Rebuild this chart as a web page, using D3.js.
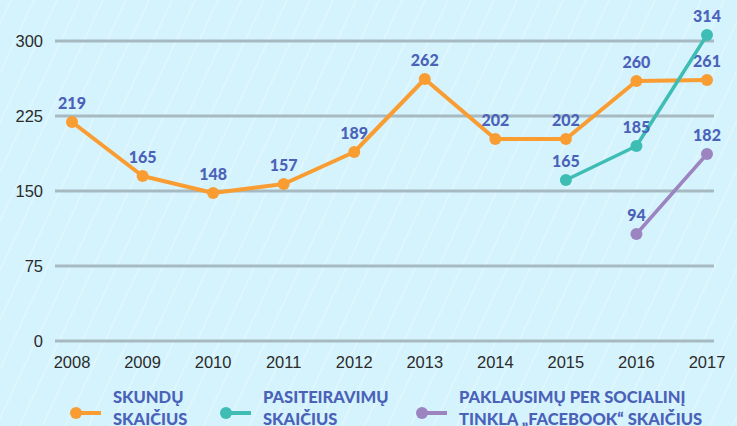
<!DOCTYPE html>
<html lang="lt">
<head>
  <meta charset="UTF-8" />
  <title>Skundų ir pasiteiravimų skaičius</title>
  <script src="https://d3js.org/d3.v7.min.js"></script>
  <style>
    body { margin: 0; padding: 0; background: #d5f3fd; overflow: hidden; }
    svg { display: block; }
    .tick-label { font-family: "Liberation Sans", Arial, sans-serif; font-size: 16.5px; fill: #2b2b2b; }
    .val-label { font-family: "Lato", "Open Sans", sans-serif; font-weight: 900; font-size: 16px; fill: #4a62b8; }
    .legend-text { font-family: "Lato", "Open Sans", sans-serif; font-weight: 900; font-size: 16.5px; fill: #4a62b8; }
  </style>
</head>
<body>
<svg id="chart"></svg>
<script>
  // data
  const years = [2008, 2009, 2010, 2011, 2012, 2013, 2014, 2015, 2016, 2017];
  const yTicks = [0, 75, 150, 225, 300];

  const complaints = [219, 165, 148, 157, 189, 262, 202, 202, 260, 261];
  // as drawn in the picture (points sit a bit off their labels)
  const inquiriesDrawn = [161, 195, 306];
  const inquiriesLabels = [165, 185, 314];
  const inquiriesYears = [2015, 2016, 2017];
  const facebookDrawn = [107, 187];
  const facebookLabels = [94, 182];
  const facebookYears = [2016, 2017];

  const legendItems = [
    { lines: ["SKUNDŲ", "SKAIČIUS"], color: "#f99d33" },
    { lines: ["PASITEIRAVIMŲ", "SKAIČIUS"], color: "#3dbdb4" },
    { lines: ["PAKLAUSIMŲ PER SOCIALINĮ", "TINKLĄ „FACEBOOK“ SKAIČIUS"], color: "#9c84c1" }
  ];

  const W = 737, H = 426;
  const svg = d3.select('#chart').attr('width', W).attr('height', H);

  // diagonal hatching on the background
  const defs = svg.append('defs');
  const pat = defs.append('pattern')
    .attr('id', 'hatch').attr('patternUnits', 'userSpaceOnUse')
    .attr('width', 23).attr('height', 50)
    .attr('patternTransform', 'skewX(-25)');
  pat.append('line').attr('x1', 11).attr('y1', 0).attr('x2', 11).attr('y2', 50)
    .attr('stroke', '#ffffff').attr('stroke-opacity', 0.4).attr('stroke-width', 1.2);
  svg.append('rect').attr('width', W).attr('height', H).attr('fill', '#d5f3fd');
  svg.append('rect').attr('width', W).attr('height', H).attr('fill', 'url(#hatch)');

  const x = d3.scalePoint().domain(years).range([72, 707]);
  const y = d3.scaleLinear().domain([0, 300]).range([341, 41]);

  // grid
  svg.append('g').selectAll('line').data(yTicks).enter().append('line')
    .attr('x1', 55).attr('x2', 714)
    .attr('y1', d => y(d)).attr('y2', d => y(d))
    .attr('stroke', '#a7b9c1').attr('stroke-width', 3);

  svg.append('g').selectAll('text').data(yTicks).enter().append('text')
    .attr('class', 'tick-label')
    .attr('x', 43).attr('y', d => y(d) + 6)
    .attr('text-anchor', 'end')
    .text(d => d);

  svg.append('g').selectAll('text').data(years).enter().append('text')
    .attr('class', 'tick-label')
    .attr('x', d => x(d)).attr('y', 368)
    .attr('text-anchor', 'middle')
    .text(d => d);

  const line = d3.line().x(d => x(d.year)).y(d => y(d.v));

  function drawSeries(ys, drawn, labels, color, width, r) {
    const pts = ys.map((yr, i) => ({ year: yr, v: drawn[i], lab: labels[i] }));
    svg.append('path').datum(pts)
      .attr('d', line).attr('fill', 'none')
      .attr('stroke', color).attr('stroke-width', width)
      .attr('stroke-linejoin', 'round');
    svg.append('g').selectAll('circle').data(pts).enter().append('circle')
      .attr('cx', d => x(d.year)).attr('cy', d => y(d.v))
      .attr('r', r).attr('fill', color);
    svg.append('g').selectAll('text').data(pts).enter().append('text')
      .attr('class', 'val-label')
      .attr('x', d => x(d.year)).attr('y', d => y(d.v) - 13)
      .attr('text-anchor', 'middle')
      .text(d => d.lab);
  }

  drawSeries(years, complaints, complaints, '#f99d33', 4, 6);
  drawSeries(inquiriesYears, inquiriesDrawn, inquiriesLabels, '#3dbdb4', 3.5, 6);
  drawSeries(facebookYears, facebookDrawn, facebookLabels, '#9c84c1', 3.5, 6);

  // legend (second text line runs off the bottom edge, as in the original)
  const legendX = [76, 226, 422];
  const lg = svg.append('g').selectAll('g').data(legendItems).enter().append('g')
    .attr('transform', (d, i) => `translate(${legendX[i]},0)`);
  lg.append('line').attr('x1', 0).attr('x2', 25).attr('y1', 413).attr('y2', 413)
    .attr('stroke', d => d.color).attr('stroke-width', 4);
  lg.append('circle').attr('cx', 0).attr('cy', 413).attr('r', 6).attr('fill', d => d.color);
  lg.each(function(d) {
    const t = d3.select(this).append('text').attr('class', 'legend-text');
    d.lines.forEach((s, i) => {
      t.append('tspan').attr('x', 37).attr('y', 403 + i * 22).text(s);
    });
  });
</script>
</body>
</html>
